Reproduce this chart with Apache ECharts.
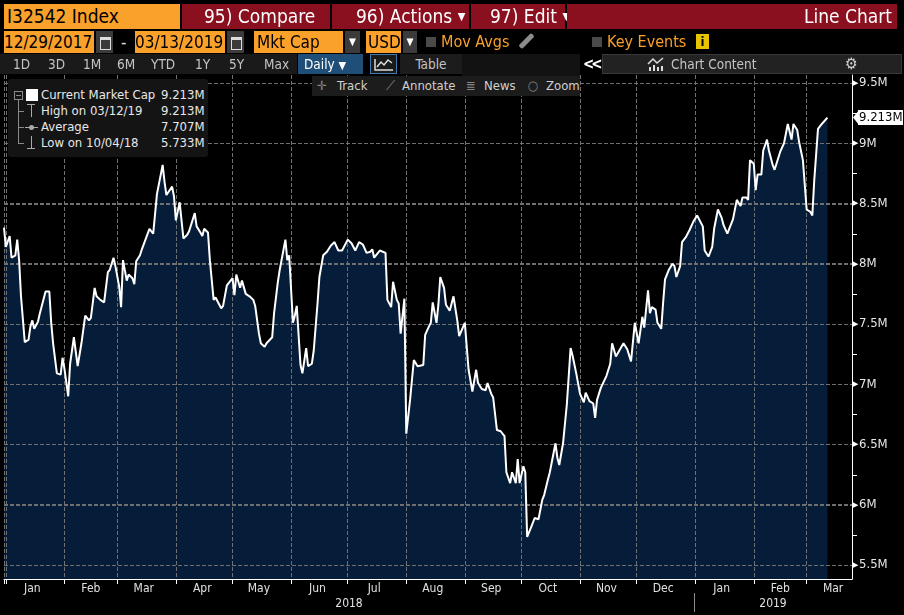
<!DOCTYPE html>
<html lang="en">
  <head>
    <meta charset="UTF-8" />
    <meta name="viewport" content="width=device-width, initial-scale=1.0" />
    <title>I32542 Index - Line Chart</title>
    <style>
      * {
        margin: 0;
        padding: 0;
        box-sizing: border-box;
      }
      body {
        width: 904px;
        height: 615px;
        background: #000;
        overflow: hidden;
        position: relative;
        font-family: "DejaVu Sans Condensed", "Liberation Sans Narrow", "Roboto Condensed", "Liberation Sans", sans-serif;
        font-stretch: condensed;
      }
      #main {
        position: absolute;
        left: 0;
        top: 0;
        width: 904px;
        height: 615px;
      }
      .b {
        position: absolute;
        white-space: nowrap;
        z-index: 2;
      }
      .or {
        background: #f9a12b;
        color: #000;
      }
      .rd {
        background: #8a0f1f;
        color: #fff;
      }
      .r1 {
        top: 4px;
        height: 25px;
        line-height: 25px;
        font-size: 19px;
      }
      .r2 {
        top: 31px;
        height: 22px;
        line-height: 22px;
        font-size: 17px;
      }
      .cal {
        background: #3b3b3b;
      }
      .cal::after {
        content: "";
        position: absolute;
        left: 4px;
        top: 6px;
        width: 9px;
        height: 9px;
        border: 1px solid #ddd;
        border-top-width: 3px;
      }
      .dd {
        background: #3b3b3b;
        color: #fff;
        font-size: 10px;
        text-align: center;
      }
      .chk {
        background: #4a4a4a;
        width: 10px;
        height: 10px;
        top: 37px;
      }
      .otxt {
        color: #f9a12b;
        top: 31px;
        height: 22px;
        line-height: 22px;
        font-size: 16px;
      }
      .r3 {
        top: 54px;
        height: 20px;
        line-height: 20px;
        font-size: 13.5px;
        color: #c4c4c4;
      }
      .tr {
        top: 76px;
        height: 20px;
        line-height: 20px;
        font-size: 13px;
        color: #d0d0d0;
      }
      .lg {
        font-size: 13px;
        color: #e8e8e8;
        height: 16px;
        line-height: 16px;
      }
    </style>
  </head>

  <body>
    <div id="main"></div>

    <!-- 第一行 -->
    <div class="b r1 or" style="left: 4px; width: 176px; padding-left: 3px">I32542 Index</div>
    <div class="b r1 rd" style="left: 182px; width: 148px; padding-left: 22px">95) Compare</div>
    <div class="b r1 rd" style="left: 332px; width: 137px; padding-left: 24px">96) Actions <span style="font-size: 11px; vertical-align: 3px">▼</span></div>
    <div class="b r1 rd" style="left: 471px; width: 94px; padding-left: 19px">97) Edit <span style="font-size: 11px; vertical-align: 3px">▼</span></div>
    <div class="b r1 rd" style="left: 567px; width: 330px; padding-right: 5px; text-align: right">Line Chart</div>

    <!-- 第二行 -->
    <div class="b r2 or" style="left: 4px; width: 90px">12/29/2017</div>
    <div class="b r2 cal" style="left: 96px; width: 17px"></div>
    <div class="b r2" style="left: 121px; color: #ddd">-</div>
    <div class="b r2 or" style="left: 135px; width: 90px">03/13/2019</div>
    <div class="b r2 cal" style="left: 227px; width: 17px"></div>
    <div class="b r2 or" style="left: 254px; width: 89px; padding-left: 3px">Mkt Cap</div>
    <div class="b r2 dd" style="left: 345px; width: 15px">▼</div>
    <div class="b r2 or" style="left: 366px; width: 35px; padding-left: 2px">USD</div>
    <div class="b r2 dd" style="left: 403px; width: 14px">▼</div>
    <div class="b chk" style="left: 426px"></div>
    <div class="b otxt" style="left: 441px">Mov Avgs</div>
    <div class="b" style="left: 524px; top: 32px; width: 5px; height: 18px; background: #8c8c8c; transform: rotate(45deg); border-radius: 2px"></div>
    <div class="b chk" style="left: 592px"></div>
    <div class="b otxt" style="left: 607px">Key Events</div>
    <div class="b" style="left: 696px; top: 34px; width: 13px; height: 15px; background: #e8c300; color: #000; font-size: 13px; font-weight: bold; line-height: 15px; text-align: center">i</div>

    <!-- 第三行 -->
    <div class="b r3" style="left: 0; width: 297px; background: #1a1a1a"></div>
    <div class="b r3" style="left: 13px">1D</div>
    <div class="b r3" style="left: 48px">3D</div>
    <div class="b r3" style="left: 83px">1M</div>
    <div class="b r3" style="left: 117px">6M</div>
    <div class="b r3" style="left: 151px">YTD</div>
    <div class="b r3" style="left: 195px">1Y</div>
    <div class="b r3" style="left: 229px">5Y</div>
    <div class="b r3" style="left: 264px">Max</div>
    <div class="b r3" style="left: 298px; width: 65px; background: #1f4e79; color: #fff; padding-left: 6px">Daily <span style="font-size: 11px">▼</span></div>
    <div class="b r3" style="left: 370px; width: 27px; background: #1a1a1a; border: 1px solid #3f78b0">
      <svg width="25" height="18" style="position: absolute; left: 0; top: 0">
        <polyline points="4,4 4,15 22,15" fill="none" stroke="#ddd" stroke-width="1.5" />
        <polyline points="6,12 10,7 13,10 17,5 21,8" fill="none" stroke="#ddd" stroke-width="1.5" />
      </svg>
    </div>
    <div class="b r3" style="left: 400px; width: 62px; background: #1c1c1c; text-align: center">Table</div>
    <div class="b" style="left: 462px; top: 54px; width: 118px; height: 22px; background: #121212"></div>
    <div class="b r3" style="left: 583px; color: #fff; font-weight: bold; font-size: 15px; letter-spacing: -3px">&lt;&lt;</div>
    <div class="b r3" style="left: 602px; width: 300px; background: #222; border: 1px solid #383838"></div>
    <svg class="b" width="18" height="16" style="left: 647px; top: 56px">
      <polyline points="1,8 6,3 10,7 16,2" fill="none" stroke="#ddd" stroke-width="1.5" />
      <rect x="2" y="11" width="2" height="4" fill="#ddd" />
      <rect x="6" y="9" width="2" height="6" fill="#ddd" />
      <rect x="10" y="11" width="2" height="4" fill="#ddd" />
      <rect x="14" y="10" width="2" height="5" fill="#ddd" />
    </svg>
    <div class="b r3" style="left: 671px">Chart Content</div>
    <div class="b r3" style="left: 845px; font-size: 16px; color: #cfcfcf">⚙</div>

    <!-- 工具行 -->
    <div class="b" style="left: 312px; top: 76px; width: 268px; height: 20px; background: #1c1c1c"></div>
    <div class="b tr" style="left: 317px; color: #888">✛</div>
    <div class="b tr" style="left: 337px">Track</div>
    <div class="b tr" style="left: 386px; color: #888">⟋</div>
    <div class="b tr" style="left: 402px">Annotate</div>
    <div class="b tr" style="left: 466px; color: #888">≣</div>
    <div class="b tr" style="left: 484px">News</div>
    <div class="b tr" style="left: 528px; color: #888">○</div>
    <div class="b tr" style="left: 546px">Zoom</div>

    <!-- 图例 -->
    <div class="b" style="left: 8px; top: 79px; width: 200px; height: 78px; background: #141414; border-radius: 3px"></div>
    <div class="b" style="left: 14px; top: 91px; width: 9px; height: 9px; border: 1px solid #8a8a8a"></div>
    <div class="b" style="left: 16px; top: 95px; width: 5px; height: 1px; background: #8a8a8a"></div>
    <div class="b" style="left: 18px; top: 100px; width: 1px; height: 44px; background: #8a8a8a"></div>
    <div class="b" style="left: 18px; top: 111px; width: 6px; height: 1px; background: #8a8a8a"></div>
    <div class="b" style="left: 18px; top: 127px; width: 6px; height: 1px; background: #8a8a8a"></div>
    <div class="b" style="left: 18px; top: 143px; width: 6px; height: 1px; background: #8a8a8a"></div>
    <div class="b" style="left: 26px; top: 89px; width: 12px; height: 12px; background: #fff"></div>
    <div class="b" style="left: 27px; top: 104px; width: 8px; height: 1px; background: #aaa"></div>
    <div class="b" style="left: 31px; top: 104px; width: 1px; height: 13px; background: #aaa"></div>
    <div class="b" style="left: 25px; top: 127px; width: 13px; height: 1px; background: #aaa"></div>
    <div class="b" style="left: 29px; top: 125px; width: 5px; height: 5px; border-radius: 3px; background: #aaa"></div>
    <div class="b" style="left: 31px; top: 136px; width: 1px; height: 13px; background: #aaa"></div>
    <div class="b" style="left: 27px; top: 148px; width: 8px; height: 1px; background: #aaa"></div>
    <div id="legendRows"></div>

    <script src="https://cdn.jsdelivr.net/npm/echarts@6/dist/echarts.min.js"></script>
    <script>
      // 数据日期
      const dates = [
        "2017-12-31", "2018-01-01", "2018-01-03", "2018-01-04", "2018-01-06", "2018-01-07", "2018-01-08", "2018-01-09",
        "2018-01-11", "2018-01-13", "2018-01-14", "2018-01-15", "2018-01-16", "2018-01-18", "2018-01-19", "2018-01-22",
        "2018-01-24", "2018-01-25", "2018-01-26", "2018-01-28", "2018-01-30", "2018-01-31", "2018-02-01", "2018-02-03",
        "2018-02-04", "2018-02-06", "2018-02-08", "2018-02-10", "2018-02-12", "2018-02-14", "2018-02-15", "2018-02-17",
        "2018-02-18", "2018-02-20", "2018-02-22", "2018-02-23", "2018-02-24", "2018-02-25", "2018-02-27", "2018-02-28",
        "2018-03-02", "2018-03-03", "2018-03-04", "2018-03-06", "2018-03-07", "2018-03-09", "2018-03-10", "2018-03-11",
        "2018-03-13", "2018-03-14", "2018-03-15", "2018-03-18", "2018-03-20", "2018-03-21", "2018-03-22", "2018-03-24",
        "2018-03-25", "2018-03-26", "2018-03-27", "2018-03-28", "2018-03-30", "2018-03-31", "2018-04-01", "2018-04-03",
        "2018-04-04", "2018-04-05", "2018-04-07", "2018-04-08", "2018-04-09", "2018-04-11", "2018-04-12", "2018-04-14",
        "2018-04-15", "2018-04-16", "2018-04-18", "2018-04-19", "2018-04-21", "2018-04-22", "2018-04-23", "2018-04-25",
        "2018-04-26", "2018-04-28", "2018-04-29", "2018-05-01", "2018-05-02", "2018-05-03", "2018-05-05", "2018-05-06",
        "2018-05-08", "2018-05-10", "2018-05-12", "2018-05-13", "2018-05-15", "2018-05-16", "2018-05-18", "2018-05-19",
        "2018-05-20", "2018-05-22", "2018-05-23", "2018-05-25", "2018-05-26", "2018-05-27", "2018-05-29", "2018-05-30",
        "2018-05-31", "2018-06-02", "2018-06-03", "2018-06-04", "2018-06-06", "2018-06-07", "2018-06-09", "2018-06-10",
        "2018-06-12", "2018-06-13", "2018-06-15", "2018-06-16", "2018-06-18", "2018-06-20", "2018-06-22", "2018-06-23",
        "2018-06-24", "2018-06-26", "2018-06-28", "2018-07-01", "2018-07-03", "2018-07-05", "2018-07-07", "2018-07-09",
        "2018-07-11", "2018-07-13", "2018-07-14", "2018-07-15", "2018-07-17", "2018-07-18", "2018-07-19", "2018-07-21",
        "2018-07-22", "2018-07-24", "2018-07-25", "2018-07-27", "2018-07-28", "2018-07-29", "2018-07-31", "2018-08-01",
        "2018-08-03", "2018-08-05", "2018-08-07", "2018-08-10", "2018-08-11", "2018-08-13", "2018-08-14", "2018-08-15",
        "2018-08-17", "2018-08-18", "2018-08-19", "2018-08-21", "2018-08-22", "2018-08-24", "2018-08-25", "2018-08-26",
        "2018-08-28", "2018-08-29", "2018-09-01", "2018-09-03", "2018-09-05", "2018-09-07", "2018-09-08", "2018-09-10",
        "2018-09-12", "2018-09-13", "2018-09-15", "2018-09-16", "2018-09-18", "2018-09-20", "2018-09-21", "2018-09-22",
        "2018-09-23", "2018-09-25", "2018-09-26", "2018-09-28", "2018-09-29", "2018-09-30", "2018-10-02", "2018-10-03",
        "2018-10-04", "2018-10-06", "2018-10-08", "2018-10-10", "2018-10-12", "2018-10-13", "2018-10-15", "2018-10-16",
        "2018-10-19", "2018-10-20", "2018-10-21", "2018-10-23", "2018-10-25", "2018-10-27", "2018-10-28", "2018-10-30",
        "2018-11-01", "2018-11-03", "2018-11-04", "2018-11-06", "2018-11-08", "2018-11-09", "2018-11-10", "2018-11-12",
        "2018-11-15", "2018-11-17", "2018-11-18", "2018-11-20", "2018-11-21", "2018-11-24", "2018-11-26", "2018-11-27",
        "2018-11-28", "2018-11-30", "2018-12-01", "2018-12-02", "2018-12-04", "2018-12-05", "2018-12-07", "2018-12-08",
        "2018-12-09", "2018-12-11", "2018-12-12", "2018-12-14", "2018-12-15", "2018-12-16", "2018-12-18", "2018-12-20",
        "2018-12-21", "2018-12-22", "2018-12-24", "2018-12-25", "2018-12-27", "2018-12-29", "2018-12-31", "2019-01-02",
        "2019-01-03", "2019-01-05", "2019-01-06", "2019-01-08", "2019-01-10", "2019-01-11", "2019-01-13", "2019-01-15",
        "2019-01-16", "2019-01-18", "2019-01-19", "2019-01-21", "2019-01-22", "2019-01-23", "2019-01-25", "2019-01-26",
        "2019-01-28", "2019-01-29", "2019-01-30", "2019-02-01", "2019-02-02", "2019-02-03", "2019-02-05", "2019-02-06",
        "2019-02-08", "2019-02-09", "2019-02-11", "2019-02-12", "2019-02-15", "2019-02-17", "2019-02-19", "2019-02-21",
        "2019-02-22", "2019-02-24", "2019-02-25", "2019-02-27", "2019-03-01", "2019-03-03", "2019-03-04", "2019-03-05",
        "2019-03-07", "2019-03-09", "2019-03-12",
      ];

      // 市值（百万美元，读图）
      const values = [
        8.30, 8.14, 8.23, 8.05, 8.07, 8.20, 8.03, 7.73,
        7.35, 7.37, 7.48, 7.53, 7.46, 7.52, 7.59, 7.77,
        7.77, 7.51, 7.34, 7.09, 7.08, 7.22, 7.13, 6.90,
        7.17, 7.39, 7.15, 7.34, 7.57, 7.53, 7.55, 7.80,
        7.73, 7.70, 7.68, 7.69, 7.93, 7.95, 8.05, 7.98,
        7.81, 7.64, 8.03, 7.86, 7.91, 7.88, 7.83, 8.02,
        8.07, 8.12, 8.13, 8.29, 8.25, 8.25, 8.58, 8.74,
        8.82, 8.68, 8.57, 8.58, 8.64, 8.56, 8.36, 8.51,
        8.51, 8.21, 8.24, 8.27, 8.27, 8.42, 8.31, 8.26,
        8.23, 8.29, 8.26, 8.03, 7.70, 7.72, 7.73, 7.63,
        7.65, 7.82, 7.83, 7.88, 7.74, 7.91, 7.80, 7.86,
        7.75, 7.73, 7.70, 7.65, 7.42, 7.34, 7.31, 7.34,
        7.34, 7.39, 7.59, 7.85, 7.95, 7.95, 8.20, 8.03,
        8.07, 7.51, 7.57, 7.65, 7.16, 7.09, 7.30, 7.15,
        7.17, 7.28, 7.67, 7.89, 8.07, 8.10, 8.15, 8.14,
        8.18, 8.11, 8.11, 8.20, 8.17, 8.11, 8.18, 8.16,
        8.09, 8.10, 8.12, 8.05, 8.09, 8.11, 8.10, 8.09,
        7.70, 7.64, 7.85, 7.70, 7.67, 7.42, 7.71, 6.59,
        6.87, 7.20, 7.15, 7.16, 7.41, 7.48, 7.51, 7.68,
        7.51, 7.66, 7.89, 7.80, 7.66, 7.61, 7.60, 7.73,
        7.53, 7.40, 7.51, 7.12, 6.94, 7.12, 7.01, 6.96,
        6.95, 7.01, 6.92, 6.89, 6.62, 6.61, 6.62, 6.57,
        6.27, 6.18, 6.27, 6.18, 6.38, 6.18, 6.32, 6.27,
        5.733, 5.81, 5.89, 5.88, 6.04, 6.08, 6.21, 6.27,
        6.51, 6.39, 6.33, 6.51, 6.83, 7.30, 7.24, 7.09,
        6.92, 6.85, 6.93, 6.86, 6.84, 6.72, 6.87, 6.97,
        7.07, 7.17, 7.34, 7.23, 7.22, 7.34, 7.29, 7.24,
        7.19, 7.51, 7.50, 7.34, 7.56, 7.47, 7.78, 7.59,
        7.64, 7.62, 7.51, 7.46, 7.68, 7.87, 7.95, 8.00,
        7.98, 7.89, 7.98, 8.18, 8.22, 8.28, 8.35, 8.40,
        8.39, 8.31, 8.11, 8.06, 8.14, 8.29, 8.45, 8.38,
        8.32, 8.25, 8.24, 8.37, 8.36, 8.53, 8.48, 8.55,
        8.55, 8.53, 8.86, 8.83, 8.61, 8.74, 8.74, 8.94,
        9.03, 8.94, 8.82, 8.78, 8.93, 9.00, 9.16, 9.03,
        9.16, 9.11, 9.01, 8.86, 8.45, 8.43, 8.40, 8.69,
        9.12, 9.16, 9.213,
      ];

      // 月份标签
      const monthNames = ["Jan", "Feb", "Mar", "Apr", "May", "Jun", "Jul", "Aug", "Sep", "Oct", "Nov", "Dec"];
      // 年份标签
      const yearLabels = ["2018", "2019"];

      // 图例文字
      const legendNames = ["Current Market Cap", "High on 03/12/19", "Average", "Low on 10/04/18"];
      const legendValues = ["9.213M", "9.213M", "7.707M", "5.733M"];

      // 纵轴刻度
      const yTicks = [5.5, 6, 6.5, 7, 7.5, 8, 8.5, 9, 9.5];
      const yMinorTicks = [5.75, 6.25, 6.75, 7.25, 7.75, 8.25, 8.75, 9.25];

      // 坐标轴范围
      const axisStart = Date.UTC(2017, 11, 31);
      const axisEnd = Date.UTC(2019, 2, 25);

      const FONT = '"DejaVu Sans Condensed","Liberation Sans Narrow","Roboto Condensed","Liberation Sans",sans-serif';

      // 图例行
      let html = "";
      legendNames.forEach((name, i) => {
        const top = 87 + i * 16;
        html += `<div class="b lg" style="left:41px;top:${top}px">${name}</div>`;
        html += `<div class="b lg" style="left:161px;top:${top}px">${legendValues[i]}</div>`;
      });
      document.getElementById("legendRows").innerHTML = html;

      // 日历类目（每天一个）
      const days = [];
      for (let t = axisStart; t <= axisEnd; t += 86400000) {
        days.push(new Date(t).toISOString().slice(0, 10));
      }

      const seriesData = dates.map((d, i) => [d, values[i]]);
      const lastValue = values[values.length - 1];
      const fmtM = (v) => +v.toFixed(3) + "M";
      const isMonthStart = (i, v) => i === 0 || v.slice(8) === "01";

      const myChart = echarts.init(document.getElementById("main"));

      // 右侧刻度标签（挂在 markLine 的 end 位置）
      const tickLabels = yTicks.map((v) => ({
        yAxis: v,
        lineStyle: { color: "#707070", type: "dashed", width: 1 },
        label: {
          show: true,
          position: "end",
          distance: 1,
          formatter: "{a|▶}{b|" + fmtM(v) + "}",
          rich: {
            a: { color: "#fff", fontSize: 7, padding: [0, 1, 0, 0] },
            b: { color: "#e6e6e6", fontSize: 13, fontFamily: FONT },
          },
        },
      }));

      const option = {
        backgroundColor: "#000",
        animation: false,
        grid: { left: 4, right: 52, top: 75, bottom: 36 },
        xAxis: {
          type: "category",
          data: days,
          boundaryGap: false,
          z: 3,
          axisLine: { lineStyle: { color: "#fff", width: 1 } },
          axisTick: { interval: isMonthStart, length: 5, lineStyle: { color: "#fff" } },
          axisLabel: {
            interval: (i, v) => v.slice(8) === "15",
            formatter: (v) => monthNames[+v.slice(5, 7) - 1],
            color: "#e0e0e0",
            fontSize: 12,
            fontFamily: FONT,
            margin: 4,
          },
          splitLine: {
            show: true,
            interval: isMonthStart,
            lineStyle: { color: "#707070", type: "dashed", width: 1 },
          },
        },
        yAxis: {
          type: "value",
          position: "right",
          min: 5.3838,
          max: 9.5664,
          axisLine: { show: true, onZero: false, lineStyle: { color: "#fff", width: 1 } },
          axisTick: { show: false },
          axisLabel: { show: false },
          splitLine: { show: false },
        },
        series: [
          {
            type: "line",
            data: seriesData,
            showSymbol: false,
            silent: true,
            z: 1,
            lineStyle: { width: 0 },
            areaStyle: { color: "#061d3a", opacity: 1 },
          },
          {
            type: "line",
            data: seriesData,
            showSymbol: false,
            z: 5,
            lineStyle: { color: "#fff", width: 2 },
            markLine: {
              silent: true,
              symbol: "none",
              data: tickLabels,
            },
          },
        ],
      };

      myChart.setOption(option);

      // 水平虚线、小刻度、当前值标签：用坐标轴换算出的像素位置绘制
      const yPix = (v) => myChart.convertToPixel({ yAxisIndex: 0 }, v);
      const crisp = (v) => Math.round(yPix(v)) + 0.5;
      const gfx = [];
      yTicks.forEach((v) => {
        gfx.push({
          type: "line",
          z: 3,
          silent: true,
          shape: { x1: 4, y1: crisp(v), x2: 852, y2: crisp(v) },
          style: { stroke: "#707070", lineWidth: 1, lineDash: "dashed" },
        });
      });
      yMinorTicks.forEach((v) => {
        gfx.push({
          type: "line",
          z: 3,
          silent: true,
          shape: { x1: 852, y1: crisp(v), x2: 857, y2: crisp(v) },
          style: { stroke: "#fff", lineWidth: 1 },
        });
      });
      const ty = yPix(lastValue);
      gfx.push({
        type: "polygon",
        z: 10,
        silent: true,
        shape: { points: [[853, ty], [859, ty - 7.5], [859, ty + 7.5]] },
        style: { fill: "#fff" },
      });
      gfx.push({
        type: "rect",
        z: 10,
        silent: true,
        shape: { x: 858, y: ty - 7.5, width: 45, height: 15 },
        style: { fill: "#fff" },
      });
      gfx.push({
        type: "text",
        z: 11,
        silent: true,
        x: 859,
        y: ty,
        style: { text: fmtM(lastValue), fill: "#000", font: "13px " + FONT, textVerticalAlign: "middle", verticalAlign: "middle" },
      });
      gfx.push({
        type: "text",
        x: 349,
        y: 604,
        style: { text: yearLabels[0], fill: "#e0e0e0", font: "12px " + FONT, textAlign: "center", textVerticalAlign: "middle" },
      });
      gfx.push({
        type: "text",
        x: 773,
        y: 604,
        style: { text: yearLabels[1], fill: "#e0e0e0", font: "12px " + FONT, textAlign: "center", textVerticalAlign: "middle" },
      });
      gfx.push({
        type: "line",
        shape: { x1: 694.5, y1: 593, x2: 694.5, y2: 612 },
        style: { stroke: "#8a8a8a", lineWidth: 1 },
      });

      myChart.setOption({ graphic: gfx });
    </script>
  </body>
</html>
